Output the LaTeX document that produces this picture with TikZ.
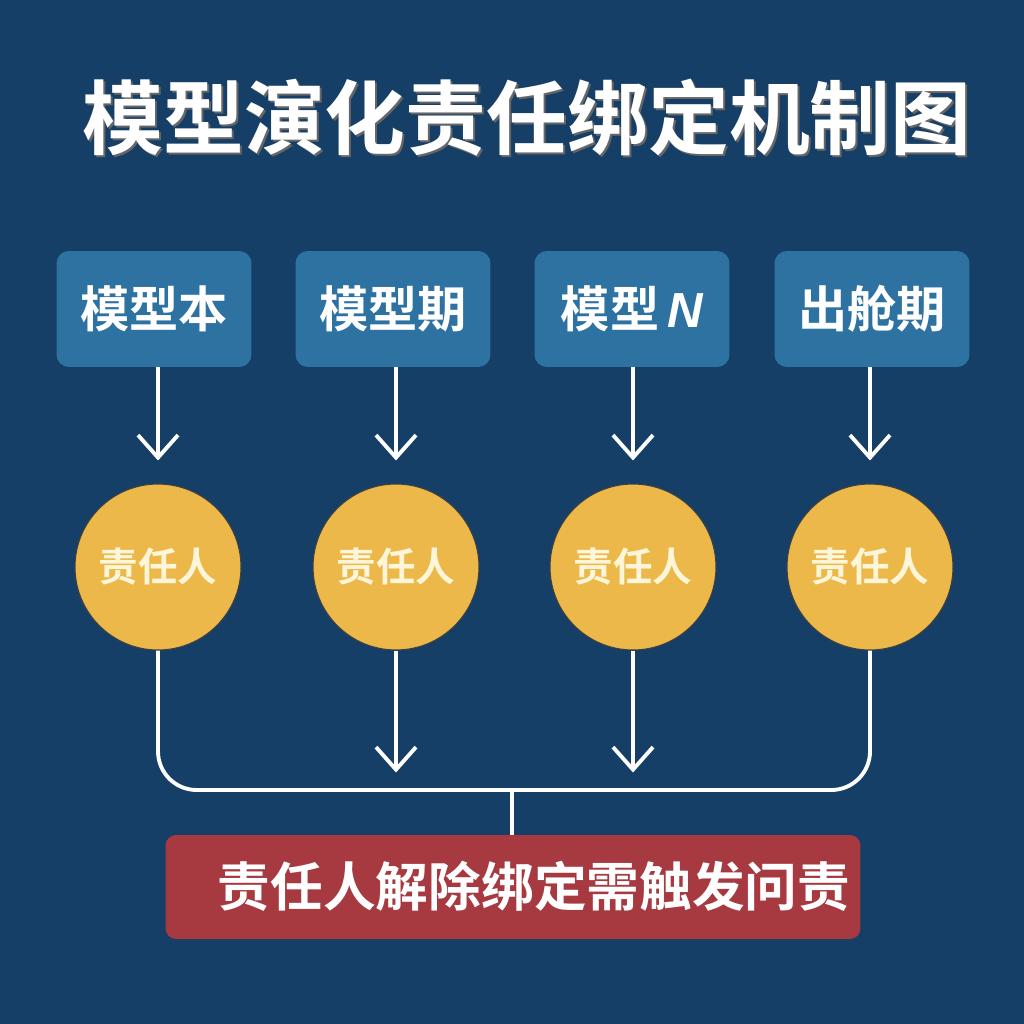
\documentclass[tikz,border=0pt]{standalone}
\usepackage{fontspec}
\newfontfamily\cjk{Noto Sans CJK SC}[BoldFont=* Bold]
\newfontfamily\latin{Liberation Sans}
\usetikzlibrary{arrows.meta,positioning}
\definecolor{fond}{HTML}{153F66}
\definecolor{bleu}{HTML}{2E72A2}
\definecolor{or}{HTML}{ECB84A}
\definecolor{brique}{HTML}{A63A40}
\definecolor{creme}{HTML}{FFF6DA}
\tikzset{
  etape/.style={fill=bleu, rounded corners=7pt, minimum width=3.9cm, minimum height=2.32cm,
    text=white, font=\cjk\bfseries\fontsize{28}{30}\selectfont},
  resp/.style={circle, fill=or, draw=black!75, line width=0.6pt, minimum size=3.32cm,
    text=creme, font=\cjk\bfseries\fontsize{22.5}{24}\selectfont},
  lien/.style={draw=white, line width=2.2pt},
  fleche/.style={lien, -{Straight Barb[length=4.5mm,width=8mm]}}
}
\begin{document}
\begin{tikzpicture}[x=0.02cm,y=-0.02cm]
        % Fond
        \fill[fond] (0,0) rectangle (1024,1024);
        \node[text=black!60, font=\cjk\bfseries\fontsize{46}{50}\selectfont] (ombre) at (529,120) {模型演化责任绑定机制图};
        \node[text=white, font=\cjk\bfseries\fontsize{46}{50}\selectfont] (titre) at (527,118) {模型演化责任绑定机制图};
        % Etapes
        \node[etape] (e1) at (154,309) {模型本};
        \node[etape] (e2) at (393,309) {模型期};
        \node[etape] (e3) at (632,309) {模型\,{\latin\bfseries\itshape N}};
        \node[etape] (e4) at (872,309) {出舱期};
        % Responsables
        \node[resp] (r1) at (158,567) {责任人};
        \node[resp] (r2) at (396,567) {责任人};
        \node[resp] (r3) at (633,567) {责任人};
        \node[resp] (r4) at (870,567) {责任人};
        \foreach \i/\x in {1/158,2/396,3/633,4/870}
          \draw[fleche, shorten >=0.46cm] (\x,367) -- (r\i.north);
        % Sanction
        \node[fill=brique, rounded corners=6pt, minimum width=13.9cm, minimum height=2.08cm] (alerte) at (513,887) {};
        \node[text=white, font=\cjk\bfseries\fontsize{30}{32}\selectfont] (texte) at (534,886) {责任人解除绑定需触发问责};
        \coordinate (j) at (512,790);
        \draw[lien, rounded corners=22pt] (r1.south) |- (j) -| (r4.south);
        \draw[lien] (j) -- (j |- alerte.north);
        \draw[fleche] (r2.south) -- ++(0,122);
        \draw[fleche] (r3.south) -- ++(0,122);
\end{tikzpicture}
\end{document}
